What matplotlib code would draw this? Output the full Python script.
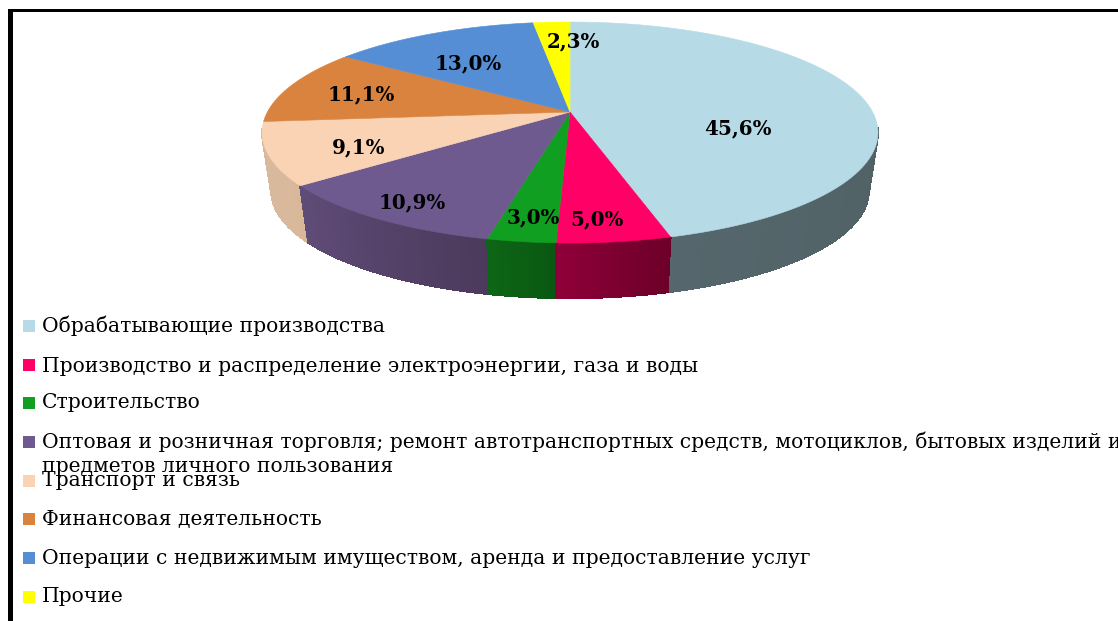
import numpy as np
import matplotlib
matplotlib.use("Agg")
import matplotlib.pyplot as plt
from matplotlib.colors import to_rgb

categories = [
    "Обрабатывающие производства",
    "Производство и распределение электроэнергии, газа и воды",
    "Строительство",
    "Оптовая и розничная торговля; ремонт автотранспортных средств, мотоциклов, бытовых изделий и\nпредметов личного пользования",
    "Транспорт и связь",
    "Финансовая деятельность",
    "Операции с недвижимым имуществом, аренда и предоставление услуг",
    "Прочие",
]
shares = [45.6, 5.0, 3.0, 10.9, 9.1, 11.1, 13.0, 2.3]
share_labels = ["45,6%", "5,0%", "3,0%", "10,9%", "9,1%", "11,1%", "13,0%", "2,3%"]

top_colors = ["#B7DBE6", "#FF0066", "#109F20", "#6F5A8F", "#FAD3B4", "#D9833F", "#558ED5", "#FFFF00"]
side_from = ["#4A585D", "#6C0028", "#0A5812", "#4C3A5C", "#D9B89A", "#A8642E", "#40699E", "#BDBD00"]
side_to = ["#55676C", "#8F0039", "#0D6616", "#604C78", "#D8BAA0", "#A8642E", "#40699E", "#BDBD00"]

# layout (pixels)
CX, CY = 570.0, 112.0
BX, AY, K = 302.6, 106.7, 0.1855
DEPTH, SHRINK = 59.0, 0.97
label_xy = [(738, 128), (597, 219), (533, 217), (412, 202), (359, 147), (361, 94), (468, 63), (573, 41)]
legend_y = [326, 365, 403, 442, 481, 519, 558, 597]
text_y = [326, 366, 403, 442, 481, 520, 559, 597]


def project(theta, radius=1.0, bottom=False):
    x = radius * np.sin(theta)
    y = radius * np.cos(theta)
    w = 1 + K * y
    sx, sy = BX * x / w, -AY * y / w
    if bottom:
        return CX + SHRINK * sx, CY + SHRINK * sy + DEPTH
    return CX + sx, CY + sy


fig = plt.figure(figsize=(11.18, 6.21), dpi=100)
ax = fig.add_axes([0, 0, 1, 1])
ax.set_xlim(0, 1118)
ax.set_ylim(621, 0)
ax.axis("off")

edges = np.cumsum([0] + shares) / sum(shares) * 2 * np.pi

# side wall: only the front strips, painted back to front
strips = []
for i in range(len(shares)):
    n = max(int(shares[i] * 4), 24)
    grid = np.linspace(edges[i], edges[i + 1], n + 1)
    c0, c1 = np.array(to_rgb(side_from[i])), np.array(to_rgb(side_to[i]))
    for j in range(n):
        t = np.linspace(grid[j], grid[j + 1], 4)
        if np.cos(t.mean()) > -0.15:
            continue
        xt, yt = project(t)
        xb, yb = project(t, bottom=True)
        col = c0 + (c1 - c0) * (j + 0.5) / n
        strips.append((yt.mean(), np.r_[xt, xb[::-1]], np.r_[yt, yb[::-1]], col))
strips.sort(key=lambda s: s[0])
for _, xs, ys, col in strips:
    ax.fill(xs, ys, color=col, lw=0.8, antialiased=False, zorder=1)

# top surface
for i in range(len(shares)):
    t = np.linspace(edges[i], edges[i + 1], max(int(shares[i] * 6), 8))
    x, y = project(t)
    ax.fill(np.r_[CX, x], np.r_[CY, y], color=top_colors[i], lw=0.4, zorder=2)

for s, (x, y) in zip(share_labels, label_xy):
    ax.text(x, y, s, ha="center", va="center", family="DejaVu Serif",
            weight="bold", fontsize=14.3, color="black", zorder=3)

# legend
for c, name, ly, ty in zip(top_colors, categories, legend_y, text_y):
    ax.add_patch(plt.Rectangle((23, ly - 6), 12, 12, color=c, lw=0, zorder=3))
    first = name.split("\n")
    ax.text(42, ty, first[0], ha="left", va="center", family="DejaVu Serif",
            fontsize=14.6, color="black", zorder=3)
    if len(first) > 1:
        ax.text(42, ty + 24, first[1], ha="left", va="center", family="DejaVu Serif",
                fontsize=14.6, color="black", zorder=3)

# frame
ax.fill([8, 1118, 1118, 8], [9, 9, 12.3, 12.3], color="black", lw=0, zorder=4)
ax.fill([8, 12.7, 12.7, 8], [9, 9, 621, 621], color="black", lw=0, zorder=4)

fig.savefig("out.png", dpi=100)
